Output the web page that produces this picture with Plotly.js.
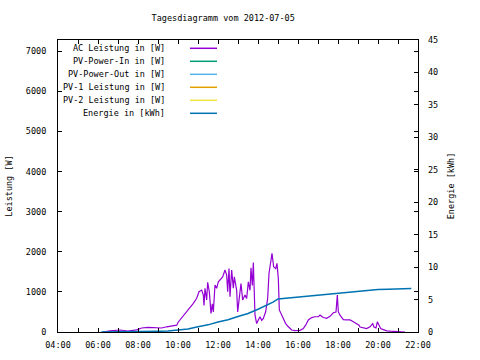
<!DOCTYPE html>
<html>
<head>
<meta charset="utf-8">
<script src="https://cdn.plot.ly/plotly-3.0.1.min.js"></script>
<style>html,body{margin:0;padding:0;background:#fff;}#chart{width:480px;height:360px;}</style>
</head>
<body>
<div id="chart"></div>
<script>
// ---- Data ----
const day = "2012-07-05 ";
const acTimes = ["06:16","06:36","07:06","07:30","07:56","08:11","08:30","08:56","09:11","09:26","09:41","09:56",
  "10:01","10:06","10:16","10:26","10:36","10:46","10:56","11:03","11:11","11:16","11:18","11:21","11:26","11:29",
  "11:34","11:39","11:43","11:46","11:51","11:56","12:01","12:06","12:14","12:21","12:26","12:29","12:33","12:36",
  "12:41","12:46","12:49","12:56","12:59","13:06","13:09","13:14","13:21","13:26","13:31","13:36","13:39","13:43",
  "13:46","13:51","13:56","14:01","14:06","14:11","14:16","14:23","14:29","14:33","14:38","14:42","14:47","14:53",
  "14:57","15:01","15:04","15:09","15:16","15:23","15:31","15:41","15:51","16:06","16:16","16:23","16:31","16:41",
  "16:51","17:01","17:06","17:16","17:26","17:36","17:46","17:54","17:58","18:01","18:06","18:16","18:26","18:36",
  "18:46","18:56","19:03","19:06","19:16","19:26","19:36","19:44","19:48","19:54","19:58","20:03","20:08","20:16",
  "20:26","20:36","21:01","21:21"];
const acWatts = [0,30,50,25,55,100,115,115,100,130,150,170,
  250,300,390,500,590,715,840,1005,1045,920,660,1090,800,1240,
  1000,465,700,500,1170,1090,1250,1295,1375,1545,1420,1005,1585,880,
  1545,1090,1375,1040,500,1000,1210,800,920,835,1250,1040,1600,1160,
  1730,420,210,300,380,290,340,505,840,1460,1710,1960,1625,1580,
  1710,1330,550,465,340,210,130,50,35,40,85,170,300,360,
  380,380,420,360,340,390,480,500,920,500,420,310,300,300,
  255,210,170,125,105,85,130,210,125,100,255,170,85,60,
  30,20,10,0];
const energyTimes = ["06:10","06:30","07:00","08:00","09:00","09:30","10:00","10:30","11:00","11:30","12:00",
  "12:30","13:00","13:30","14:00","14:30","14:45","15:00","15:30","16:00","16:30","17:00","17:30","18:00",
  "18:30","19:00","19:30","20:00","20:30","21:00","21:40"];
const energyKWh = [0,0,0.02,0.05,0.1,0.15,0.25,0.45,0.8,1.1,1.55,
  1.9,2.4,2.85,3.5,4.2,4.6,5.1,5.25,5.35,5.5,5.65,5.85,6.0,
  6.2,6.35,6.45,6.55,6.6,6.65,6.7];
const legendLabels = ["AC Leistung in [W]","PV-Power-In in [W]","PV-Power-Out in [W]",
  "PV-1 Leistung in [W]","PV-2 Leistung in [W]","Energie in [kWh]"];
const legendColors = ["#9400d3","#009e73","#56b4e9","#e69f00","#f0e442","#0072b2"];
const y1Ticks = [0,1000,2000,3000,4000,5000,6000,7000];
const y2Ticks = [0,5,10,15,20,25,30,35,40,45];

// ---- Chart ----
const font = {family: "DejaVu Sans Mono, monospace", size: 8.5, color: "#000"};
const traces = [
  {x: acTimes.map(t => day + t), y: acWatts, type: "scatter", mode: "lines",
   line: {color: legendColors[0], width: 1.2}, name: legendLabels[0], yaxis: "y"},
  {x: energyTimes.map(t => day + t), y: energyKWh, type: "scatter", mode: "lines",
   line: {color: legendColors[5], width: 1.5}, name: legendLabels[5], yaxis: "y2"}
];

const annotations = [];
const shapes = [];
const rowTop = 0.9716, rowStep = 13 / 292;
legendLabels.forEach((lab, i) => {
  const yy = rowTop - i * rowStep;
  annotations.push({xref: "paper", yref: "paper", x: 0.302, y: yy, xanchor: "right", yanchor: "middle",
    text: lab, showarrow: false, font: font});
  shapes.push({type: "line", xref: "paper", yref: "paper", x0: 0.3667, x1: 0.4417, y0: yy, y1: yy,
    line: {color: legendColors[i], width: 1.5}});
});

const layout = {
  width: 480, height: 360,
  margin: {l: 58, r: 62, t: 40, b: 28},
  paper_bgcolor: "#fff", plot_bgcolor: "#fff",
  font: font,
  showlegend: false,
  title: {text: "Tagesdiagramm vom 2012-07-05", font: font, x: 0.465, xanchor: "center",
          y: 0.95, yref: "container", yanchor: "middle"},
  xaxis: {type: "date", range: [day + "04:00", day + "22:00"], dtick: 3600000, ticklabelstep: 2,
          tick0: day + "04:00", tickformat: "%H:%M", ticks: "inside", ticklen: 4, tickcolor: "#000",
          showline: true, linecolor: "#000", linewidth: 1, mirror: "ticks", showgrid: false, zeroline: false,
          ticklabelstandoff: 5, tickfont: font},
  yaxis: {range: [0, 7280], tickvals: y1Ticks, ticks: "inside", ticklen: 4, tickcolor: "#000",
          showline: true, linecolor: "#000", linewidth: 1, mirror: "ticks", showgrid: false, zeroline: false,
          ticklabelstandoff: 9, tickfont: font,
          title: {text: "Leistung [W]", font: font, standoff: 11}},
  yaxis2: {range: [0, 45], tickvals: y2Ticks, overlaying: "y", side: "right", ticks: "inside", ticklen: 4,
           tickcolor: "#000", showline: false, showgrid: false, zeroline: false,
           ticklabelstandoff: 9, tickfont: font,
           title: {text: "Energie [kWh]", font: font, standoff: 10}},
  annotations: annotations,
  shapes: shapes
};

Plotly.newPlot("chart", traces, layout, {displayModeBar: false, staticPlot: true});
</script>
</body>
</html>
